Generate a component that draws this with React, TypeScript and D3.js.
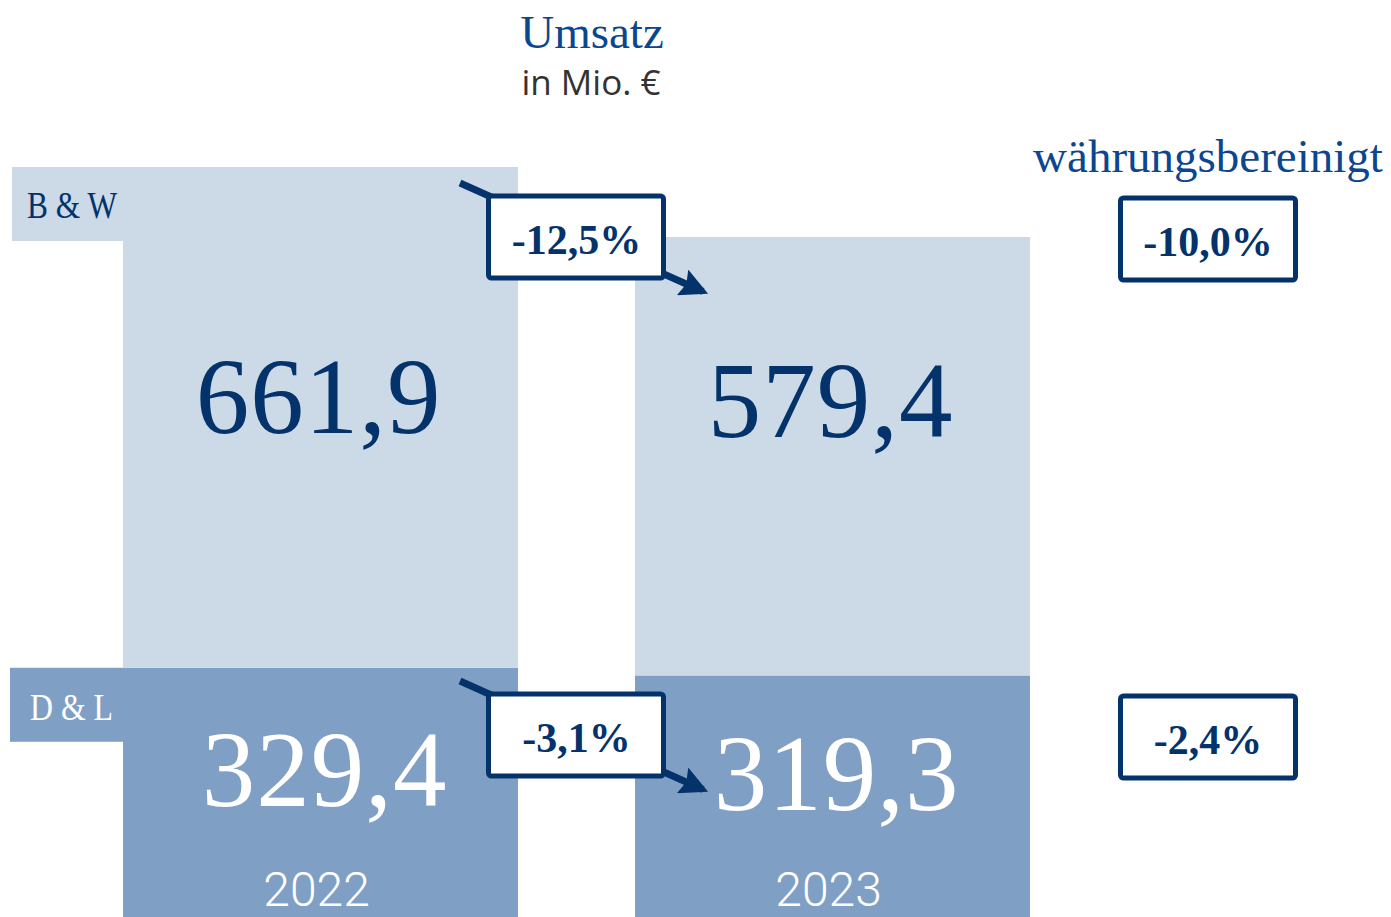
import React from 'react';
import * as d3 from 'd3';

// Umsatz in Mio. €
const years = ['2022', '2023'];
const segments = ['D & L', 'B & W'];
const dlValues = [329.4, 319.3];
const bwValues = [661.9, 579.4];
const changeLabels = ['-3,1%', '-12,5%'];
const fxLabels = ['-2,4%', '-10,0%'];

const W = 1391;
const H = 917;
const NAVY = '#04336b';
const LIGHT = '#ccd9e7';
const DARK = '#809fc4';
const SERIF = '"Liberation Serif", "DejaVu Serif", serif';

const fmt = (v: number) => v.toFixed(1).replace('.', ',');

export default function App() {
  const totals = years.map((_, i) => dlValues[i] + bwValues[i]);
  const y = d3.scaleLinear().domain([0, d3.max(totals) as number]).range([H, 167]);
  const x = d3.scaleBand().domain(years).range([123, 1030]).paddingInner(117 / 512).paddingOuter(0);
  const bw = x.bandwidth();

  const stack = d3.stack<any>().keys(['dl', 'bw'])(
    years.map((yr, i) => ({ year: yr, dl: dlValues[i], bw: bwValues[i] }))
  );

  // row positions for labels (fixed text rows)
  const rowBW = { tabTop: y(totals[0]), valueY: 433, boxY: 196 };
  const rowDL = { tabTop: y(dlValues[0]), valueY: 806, boxY: 694 };
  const boxW = 175;
  const boxH = 82;
  const midX = (x('2022')! + bw + x('2023')!) / 2;
  const fxX = 1208;

  const rows = [
    { r: rowDL, change: changeLabels[0], fx: fxLabels[0] },
    { r: rowBW, change: changeLabels[1], fx: fxLabels[1] },
  ];

  return (
    <svg width={W} height={H} style={{ position: 'absolute', left: 0, top: 0 }}>
      <defs>
        <marker id="arr" viewBox="0 0 10 10" refX="8" refY="5" markerWidth="4.2" markerHeight="4" orient="auto" markerUnits="strokeWidth">
          <path d="M0,0 L10,5 L0,10 L1.5,5 Z" fill={NAVY} />
        </marker>
      </defs>

      {/* header */}
      <text x={592} y={48} textAnchor="middle" fontFamily={SERIF} fontSize={47} fill="#0b4790">Umsatz</text>
      <text x={591} y={95} textAnchor="middle" fontFamily='"Open Sans", sans-serif' fontSize={35} fill="#333">in Mio. €</text>
      <text x={fxX} y={172} textAnchor="middle" fontFamily={SERIF} fontSize={47} fill="#0b4790">währungsbereinigt</text>

      {/* segment tabs */}
      <rect x={12} y={rowBW.tabTop} width={x('2022')! - 12} height={74} fill={LIGHT} />
      <rect x={10} y={rowDL.tabTop} width={x('2022')! - 10} height={74} fill={DARK} />
      <text x={27} y={rowBW.tabTop + 51} fontFamily={SERIF} fontSize={38} fill={NAVY} textLength={90} lengthAdjust="spacingAndGlyphs">{segments[1]}</text>
      <text x={30} y={rowDL.tabTop + 52} fontFamily={SERIF} fontSize={38} fill="#fff" textLength={83} lengthAdjust="spacingAndGlyphs">{segments[0]}</text>

      {/* bars */}
      {stack.map((layer) => (
        <g key={layer.key}>
          {layer.map((d, i) => (
            <rect key={i} x={x(years[i])} y={y(d[1])} width={bw} height={y(d[0]) - y(d[1])} fill={layer.key === 'dl' ? DARK : LIGHT} />
          ))}
        </g>
      ))}

      {/* values */}
      {years.map((yr, i) => (
        <g key={yr}>
          <text x={x(yr)! + bw / 2 - 2} y={rowBW.valueY + i * 4} textAnchor="middle" fontFamily={SERIF} fontSize={107} letterSpacing={1} fill={NAVY}>{fmt(bwValues[i])}</text>
          <text x={x(yr)! + bw / 2 + 4} y={rowDL.valueY + i * 4} textAnchor="middle" fontFamily={SERIF} fontSize={107} letterSpacing={1} fill="#fff">{fmt(dlValues[i])}</text>
          <text x={x(yr)! + bw / 2 - 4} y={906} textAnchor="middle" fontFamily="Roboto, sans-serif" fontWeight={300} fontSize={48} fill="#fff">{yr}</text>
        </g>
      ))}

      {/* change arrows and boxes */}
      {rows.map(({ r, change, fx }) => (
        <g key={change}>
          <line x1={460} y1={r.boxY - 13} x2={703} y2={r.boxY + 95.5} stroke={NAVY} strokeWidth={7} markerEnd="url(#arr)" />
          <rect x={midX - boxW / 2 - 0.5} y={r.boxY} width={boxW} height={boxH} rx={3} fill="#fff" stroke={NAVY} strokeWidth={5} />
          <text x={midX} y={r.boxY + 58} textAnchor="middle" fontFamily={SERIF} fontWeight="bold" fontSize={42} fill={NAVY}>{change}</text>
          <rect x={fxX - boxW / 2} y={r.boxY + 2} width={boxW} height={boxH} rx={3} fill="#fff" stroke={NAVY} strokeWidth={5} />
          <text x={fxX} y={r.boxY + 60} textAnchor="middle" fontFamily={SERIF} fontWeight="bold" fontSize={42} fill={NAVY}>{fx}</text>
        </g>
      ))}
    </svg>
  );
}
